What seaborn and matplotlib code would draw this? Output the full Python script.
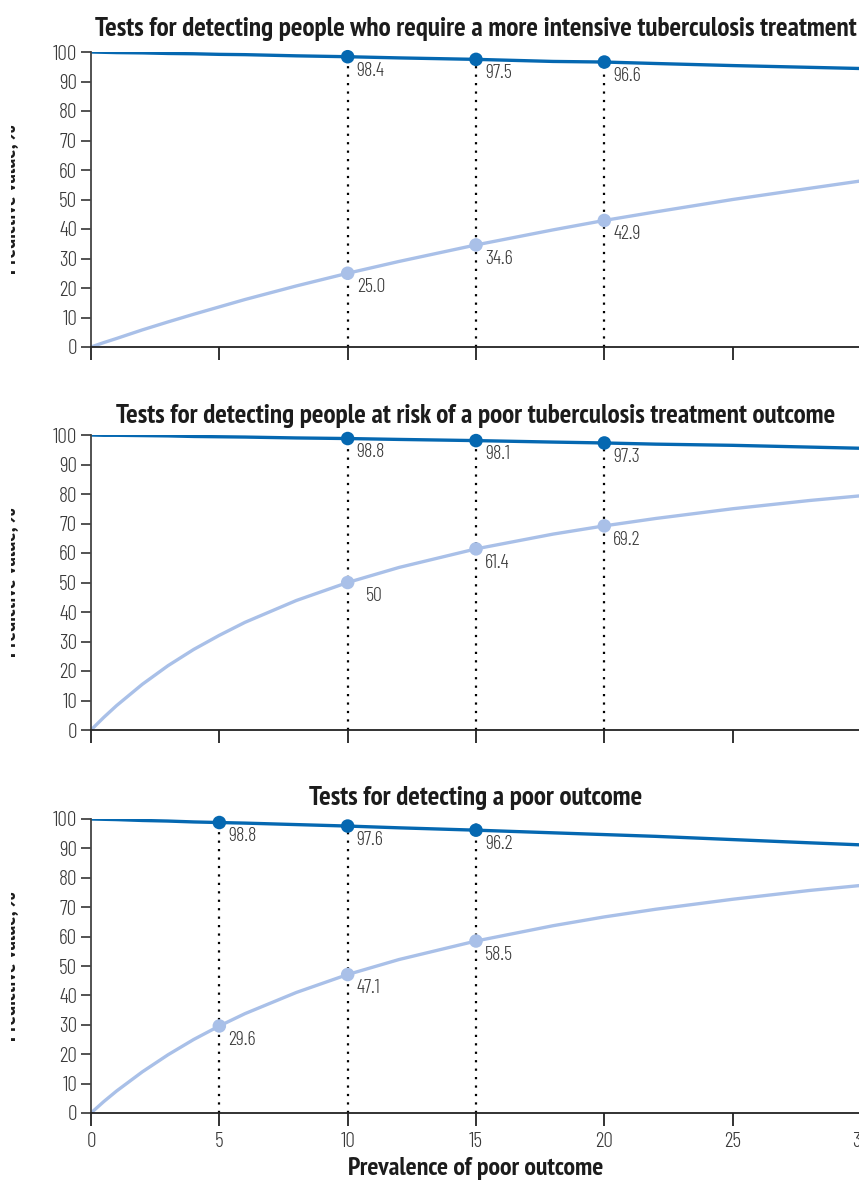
import numpy as np
import pandas as pd
import seaborn as sns
import matplotlib.pyplot as plt
from matplotlib.transforms import Bbox

prev = [0, 0.5, 1, 2, 3, 4, 5, 6, 8, 10, 12, 15, 18, 20, 22, 25, 28, 30]

# panel 1: more intensive treatment
ppv1 = [0, 1.5, 2.9, 5.8, 8.5, 11.1, 13.6, 16.1, 20.7, 25.0, 29.0, 34.6, 39.7, 42.9, 45.8, 50.0, 53.8, 56.3]
npv1 = [100, 99.9, 99.8, 99.7, 99.5, 99.4, 99.2, 99.1, 98.7, 98.4, 98.0, 97.5, 96.8, 96.6, 96.1, 95.4, 94.8, 94.4]
mark_x1 = [10, 15, 20]
mark_ppv1 = [25.0, 34.6, 42.9]
mark_npv1 = [98.4, 97.5, 96.6]

# panel 2: risk of poor treatment outcome
ppv2 = [0, 4.3, 8.3, 15.5, 21.8, 27.3, 32.1, 36.5, 43.9, 50.0, 55.1, 61.4, 66.4, 69.2, 71.7, 75.0, 77.8, 79.4]
npv2 = [100, 99.9, 99.9, 99.8, 99.7, 99.5, 99.4, 99.3, 99.0, 98.8, 98.5, 98.1, 97.6, 97.3, 96.9, 96.5, 95.9, 95.5]
mark_x2 = [10, 15, 20]
mark_ppv2 = [50, 61.4, 69.2]
mark_npv2 = [98.8, 98.1, 97.3]
labels_ppv2 = ["50", "61.4", "69.2"]

# panel 3: poor outcome
ppv3 = [0, 3.9, 7.5, 14.0, 19.8, 25.0, 29.6, 33.8, 41.0, 47.1, 52.2, 58.5, 63.7, 66.7, 69.3, 72.7, 75.7, 77.4]
npv3 = [100, 99.9, 99.8, 99.5, 99.3, 99.0, 98.8, 98.6, 98.1, 97.6, 97.0, 96.2, 95.3, 94.7, 94.1, 93.0, 91.9, 91.2]
mark_x3 = [5, 10, 15]
mark_ppv3 = [29.6, 47.1, 58.5]
mark_npv3 = [98.8, 97.6, 96.2]

titles = [
    "Tests for detecting people who require a more intensive tuberculosis treatment",
    "Tests for detecting people at risk of a poor tuberculosis treatment outcome",
    "Tests for detecting a poor outcome",
]
xlabel = "Prevalence of poor outcome"
ylabel = "Predictive value, %"

sns.set_style("ticks")
plt.rcParams['font.family'] = ['Barlow Condensed', 'Roboto Condensed', 'DejaVu Sans']
plt.rcParams['font.weight'] = 300
BOLD = ['PT Sans Narrow', 'DejaVu Sans']

DARK = "#0568b1"
LIGHT = "#a9c0e8"
TXT = "#3a3a3a"
HEAD = "#1c1c1c"

W, H = 859, 1182
fig = plt.figure(figsize=(W / 100, H / 100), dpi=100)
renderer = fig.canvas.get_renderer()

# axes vertical extents in px (top, bottom) and title baseline gap in points
panels = [
    (ppv1, npv1, mark_x1, mark_ppv1, mark_npv1, None, 52, 347, 11.5),
    (ppv2, npv2, mark_x2, mark_ppv2, mark_npv2, labels_ppv2, 435, 730, 8.5),
    (ppv3, npv3, mark_x3, mark_ppv3, mark_npv3, None, 819, 1113, 10),
]

title_size = None
for i, (ppv, npv, mx, mp, mn, lp, top_px, bot_px, tpad) in enumerate(panels):
    ax = fig.add_axes([91 / W, 1 - bot_px / H, 770 / W, (bot_px - top_px) / H])
    df = pd.DataFrame({"prev": prev, "ppv": ppv, "npv": npv})
    mk = pd.DataFrame({"x": mx, "ppv": mp, "npv": mn})

    for x in mx:
        ax.axvline(x, ymin=0, ymax=1, color="black", lw=1.6,
                   linestyle=(0, (1.0, 2.8)), dash_capstyle="butt", zorder=1)

    sns.lineplot(data=df, x="prev", y="npv", color=DARK, lw=2.4, ax=ax, zorder=2)
    sns.lineplot(data=df, x="prev", y="ppv", color=LIGHT, lw=2.4, ax=ax, zorder=2)
    sns.scatterplot(data=mk, x="x", y="npv", color=DARK, s=95, edgecolor="none", ax=ax, zorder=3, clip_on=False)
    sns.scatterplot(data=mk, x="x", y="ppv", color=LIGHT, s=95, edgecolor="none", ax=ax, zorder=3, clip_on=False)

    for j, x in enumerate(mx):
        ax.annotate(f"{mn[j]:.1f}", (x, mn[j]), xytext=(6.5, -3.5), textcoords="offset points",
                    ha="left", va="top", fontsize=14.5, color=TXT)
        lab = lp[j] if lp else f"{mp[j]:.1f}"
        dx = 13 if len(lab) < 3 else 6.5
        ax.annotate(lab, (x, mp[j]), xytext=(dx, -3.5), textcoords="offset points",
                    ha="left", va="top", fontsize=14.5, color=TXT)

    ax.set_xlim(0, 30)
    ax.set_ylim(0, 100)
    ax.set_yticks(range(0, 101, 10))
    ax.set_xticks(range(0, 31, 5))
    ax.tick_params(axis="y", length=7, width=1.3, color="#444444", labelsize=15.5, labelcolor=TXT, pad=3)
    ax.tick_params(axis="x", length=9, width=1.3, color="#222222", labelsize=15.5, labelcolor=TXT, pad=5)
    for s in ["top", "right"]:
        ax.spines[s].set_visible(False)
    ax.spines["left"].set_color("#444444")
    ax.spines["left"].set_linewidth(1.3)
    ax.spines["bottom"].set_color("#222222")
    ax.spines["bottom"].set_linewidth(1.3)
    ax.set_ylabel("")

    t = ax.set_title(titles[i], fontsize=19, fontweight="bold", family=BOLD, color=HEAD, pad=tpad)
    if title_size is None:
        # fit the longest title to its width in the original (~762 px)
        w = t.get_window_extent(renderer).width
        title_size = 19 * 762 / w
    t.set_fontsize(title_size)

    if i < 2:
        ax.set_xticklabels([])
        ax.set_xlabel("")
    else:
        ax.set_xlabel(xlabel, fontsize=title_size * 0.95, fontweight="bold", family=BOLD,
                      color=HEAD, labelpad=4)

    # y-axis label: only the glyph bottoms show at the left edge in the original
    yl = fig.text(19 / W, 1 - (top_px + bot_px) / 2 / H, ylabel, rotation=90,
                  ha="right", va="center", fontsize=16, color=HEAD,
                  fontweight="bold", family=BOLD)
    yl.set_clip_box(Bbox.from_extents(10.5, 0, 19, H))
    yl.set_clip_on(True)

fig.savefig("out.png", dpi=100)
